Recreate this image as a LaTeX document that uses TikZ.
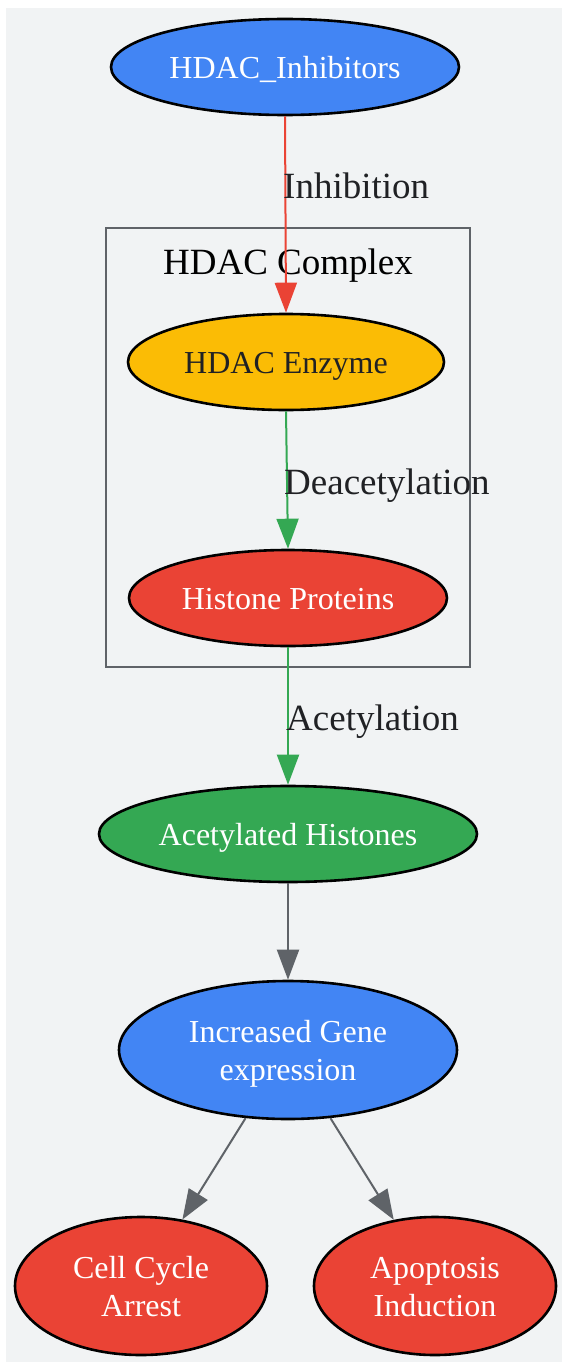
\documentclass[tikz,border=0pt]{standalone}
\usepackage{fontspec}
\setmainfont{Liberation Serif}
\usetikzlibrary{arrows.meta,shapes.geometric}
\definecolor{gblue}{HTML}{4285F4}
\definecolor{gyellow}{HTML}{FBBC05}
\definecolor{gred}{HTML}{EA4335}
\definecolor{ggreen}{HTML}{34A853}
\definecolor{ggray}{HTML}{5F6368}
\definecolor{gbg}{HTML}{F1F3F4}
\definecolor{gtext}{HTML}{202124}
\newcommand\ntxt[1]{\raisebox{-4pt}[\height][\depth]{\begin{tabular}{@{}c@{}}#1\end{tabular}}}
\tikzset{
  nd/.style={ellipse, draw=black, line width=2.6pt, inner sep=0pt,
    font=\fontsize{32}{38}\selectfont, text=white},
  conn/.style={line width=2pt, -{Triangle[length=30pt,width=22pt]}},
  elabel/.style={anchor=base west, inner sep=0pt, text=gtext, font=\fontsize{37}{44}\selectfont},
}
\begin{document}
\begin{tikzpicture}[x=1pt,y=-1pt]
\useasboundingbox (0,0) rectangle (562,1362);
\fill[gbg] (6,8) rectangle (562,1362);
% cluster
\draw[ggray, line width=2.2pt] (106,228) rectangle (470,667);
\node[anchor=base, inner sep=0pt, text=black, font=\fontsize{37}{44}\selectfont] (clab) at (288,274) {HDAC Complex};
% nodes
\node[nd, fill=gblue, minimum width=348pt, minimum height=96pt] (inh) at (285,67) {\ntxt{HDAC\_Inhibitors}};
\node[nd, fill=gyellow, text=gtext, minimum width=316pt, minimum height=96pt] (enz) at (286,362) {\ntxt{HDAC Enzyme}};
\node[nd, fill=gred, minimum width=318pt, minimum height=96pt] (his) at (288,598) {\ntxt{Histone Proteins}};
\node[nd, fill=ggreen, minimum width=378pt, minimum height=96pt] (ace) at (288,834) {\ntxt{Acetylated Histones}};
\node[nd, fill=gblue, minimum width=338pt, minimum height=138pt] (gene) at (288,1050) {\ntxt{Increased Gene\\expression}};
\node[nd, fill=gred, minimum width=252pt, minimum height=138pt] (cca) at (141,1286) {\ntxt{Cell Cycle\\Arrest}};
\node[nd, fill=gred, minimum width=242pt, minimum height=138pt] (apo) at (435,1286) {\ntxt{Apoptosis\\Induction}};
% edges
\draw[conn, gred] (inh.south) -- (enz.north);
\node[elabel] (l1) at (283,198) {Inhibition};
\draw[conn, ggreen] (enz.south) -- (his.north);
\node[elabel] (l2) at (284,494) {Deacetylation};
\draw[conn, ggreen] (his.south) -- (ace.north);
\node[elabel] (l3) at (286,730) {Acetylation};
\draw[conn, ggray] (ace.south) -- (gene.north);
\draw[conn, ggray] (gene) -- (cca);
\draw[conn, ggray] (gene) -- (apo);
\end{tikzpicture}
\end{document}
